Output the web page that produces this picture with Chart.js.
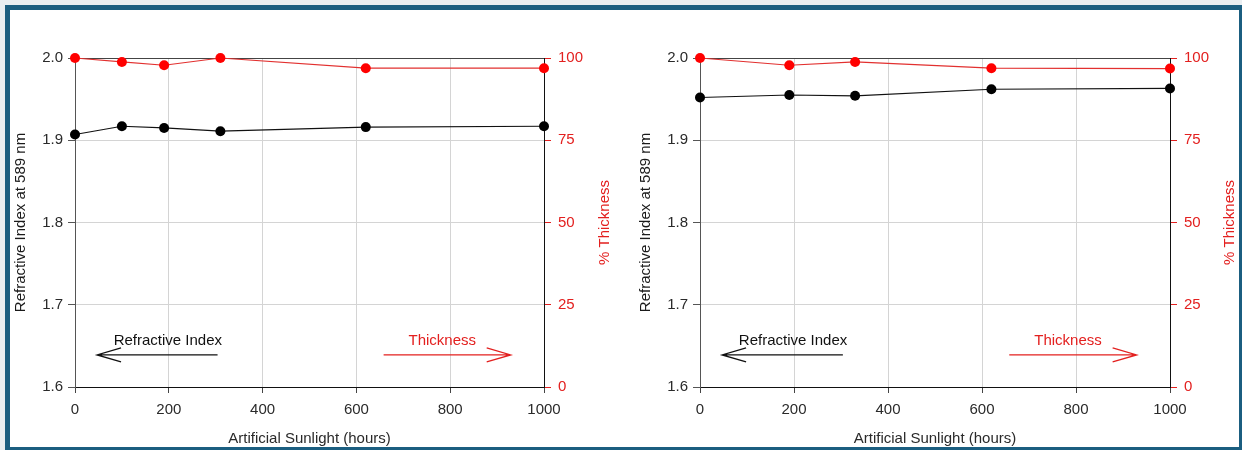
<!DOCTYPE html>
<html>
<head>
<meta charset="utf-8">
<script src="https://cdn.jsdelivr.net/npm/chart.js@4/dist/chart.umd.min.js"></script>
<style>
  html, body { margin:0; padding:0; }
  body { width:1242px; height:450px; overflow:hidden; background:#e9eef1; position:relative; }
  #frame { position:absolute; left:5px; top:5px; width:1239px; height:447px; border:5px solid #1b5e80; background:#ffffff; box-sizing:border-box; }
  canvas { position:absolute; top:0; }
  #c1 { left:0; }
  #c2 { left:621px; }
</style>
</head>
<body>
<div id="frame"></div>
<canvas id="c1" width="621" height="450"></canvas>
<canvas id="c2" width="621" height="450"></canvas>
<script>
// ---- data ----
const hoursA = [0, 100, 190, 310, 620, 1000];
const refractiveA = [1.907, 1.917, 1.915, 1.911, 1.916, 1.917];
const thicknessA = [100, 98.8, 97.8, 100, 96.9, 96.9];

const hoursB = [0, 190, 330, 620, 1000];
const refractiveB = [1.952, 1.955, 1.954, 1.962, 1.963];
const thicknessB = [100, 97.8, 98.8, 96.9, 96.8];

const xTicks = [0, 200, 400, 600, 800, 1000];
const yLeftTicks = [1.6, 1.7, 1.8, 1.9, 2.0];
const yRightTicks = [0, 25, 50, 75, 100];

const xTitle = 'Artificial Sunlight (hours)';
const yLeftTitle = 'Refractive Index at 589 nm';
const yRightTitle = '% Thickness';
const labelRI = 'Refractive Index';
const labelTh = 'Thickness';

const FONT = "'Liberation Sans', Arial, sans-serif";
const RED = '#e3201f';
const GRID = '#d4d4d4';

// annotation positions in data units (x hours, y refractive index)
const annRI = { text: labelRI, tx: 198, ty: 1.6565, ax0: 304, ax1: 47, ay: 1.639 };
const annTh = { text: labelTh, tx: 783, ty: 1.6565, ax0: 658, ax1: 929, ay: 1.639 };

const annotationPlugin = {
  id: 'arrows',
  afterDatasetsDraw(chart) {
    const ctx = chart.ctx, xs = chart.scales.x, ys = chart.scales.y;
    const draw = (a, color) => {
      ctx.save();
      ctx.fillStyle = color; ctx.strokeStyle = color; ctx.lineWidth = 1.3;
      ctx.font = '15px ' + FONT;
      ctx.textAlign = 'center'; ctx.textBaseline = 'middle';
      ctx.fillText(a.text, xs.getPixelForValue(a.tx), ys.getPixelForValue(a.ty));
      const x0 = xs.getPixelForValue(a.ax0), x1 = xs.getPixelForValue(a.ax1), y = ys.getPixelForValue(a.ay);
      const dir = x1 > x0 ? -1 : 1;
      ctx.beginPath();
      ctx.moveTo(x0, y); ctx.lineTo(x1, y);
      ctx.moveTo(x1 + dir * 24, y - 7); ctx.lineTo(x1, y); ctx.lineTo(x1 + dir * 24, y + 7);
      ctx.stroke();
      ctx.restore();
    };
    draw(annRI, '#111111');
    draw(annTh, RED);
  }
};

// right-axis title, reading bottom-to-top like the original
const rightTitlePlugin = {
  id: 'rightTitle',
  afterDraw(chart, args, opts) {
    const ctx = chart.ctx, s = chart.scales.y2, area = chart.chartArea;
    ctx.save();
    ctx.translate(s.right - opts.offset, (area.top + area.bottom) / 2);
    ctx.rotate(-Math.PI / 2);
    ctx.fillStyle = RED;
    ctx.font = '15px ' + FONT;
    ctx.textAlign = 'center'; ctx.textBaseline = 'middle';
    ctx.fillText(yRightTitle, 0, 0);
    ctx.restore();
  }
};

function makeChart(id, hours, ri, th, geo) {
  const pts = (vals) => hours.map((h, i) => ({ x: h, y: vals[i] }));
  return new Chart(document.getElementById(id), {
    type: 'line',
    data: {
      datasets: [
        { data: pts(th), yAxisID: 'y2', borderColor: '#e2302f', borderWidth: 1.2,
          pointBackgroundColor: '#ff0000', pointBorderColor: '#ff0000', pointRadius: 5, pointBorderWidth: 0,
          tension: 0, clip: false },
        { data: pts(ri), yAxisID: 'y', borderColor: '#111111', borderWidth: 1.2,
          pointBackgroundColor: '#000000', pointBorderColor: '#000000', pointRadius: 5, pointBorderWidth: 0,
          tension: 0, clip: false }
      ]
    },
    options: {
      responsive: false, animation: false,
      layout: { padding: { top: 58, left: 0, right: 0, bottom: 0 } },
      plugins: { legend: { display: false }, tooltip: { enabled: false }, rightTitle: { offset: geo.rtOff } },
      scales: {
        x: {
          type: 'linear', min: 0, max: 1000,
          afterFit: s => { s.height = 63; },
          afterBuildTicks: s => { s.ticks = xTicks.map(v => ({ value: v })); },
          grid: { color: ctx => (ctx.tick && ctx.tick.value === 1000) ? '#111111' : GRID, tickColor: '#444444', tickLength: 6, lineWidth: 1 },
          border: { color: '#111111', width: 1 },
          ticks: { color: '#2a2a2a', font: { family: FONT, size: 15 }, padding: 8, maxRotation: 0, callback: v => String(v) },
          title: { display: true, text: xTitle, color: '#2a2a2a', font: { family: FONT, size: 15 }, padding: { top: 0, bottom: 2 } }
        },
        y: {
          position: 'left', min: 1.6, max: 2.0,
          afterFit: s => { s.width = geo.left; },
          afterBuildTicks: s => { s.ticks = yLeftTicks.map(v => ({ value: v })); },
          grid: { color: ctx => (ctx.tick && Math.abs(ctx.tick.value - 2.0) < 1e-6) ? '#444444' : GRID, tickColor: '#555555', tickLength: 7 },
          border: { color: '#555555', width: 1 },
          ticks: { color: '#2a2a2a', font: { family: FONT, size: 15 }, padding: 5, callback: v => v.toFixed(1) },
          title: { display: true, text: yLeftTitle, color: '#1a1a1a', font: { family: FONT, size: 15 }, padding: { top: geo.ltPad, bottom: 0 } }
        },
        y2: {
          position: 'right', min: 0, max: 100,
          afterFit: s => { s.width = geo.right; },
          afterBuildTicks: s => { s.ticks = yRightTicks.map(v => ({ value: v })); },
          grid: { drawOnChartArea: false, color: RED, tickColor: RED, tickLength: 7 },
          border: { color: '#111111', width: 1 },
          ticks: { color: RED, font: { family: FONT, size: 15 }, padding: 7 },
          title: { display: false }
        }
      }
    },
    plugins: [annotationPlugin, rightTitlePlugin]
  });
}

makeChart('c1', hoursA, refractiveA, thicknessA, { left: 75, right: 77, ltPad: 12, rtOff: 16 });
makeChart('c2', hoursB, refractiveB, thicknessB, { left: 79, right: 72, ltPad: 16, rtOff: 12 });
</script>
</body>
</html>
